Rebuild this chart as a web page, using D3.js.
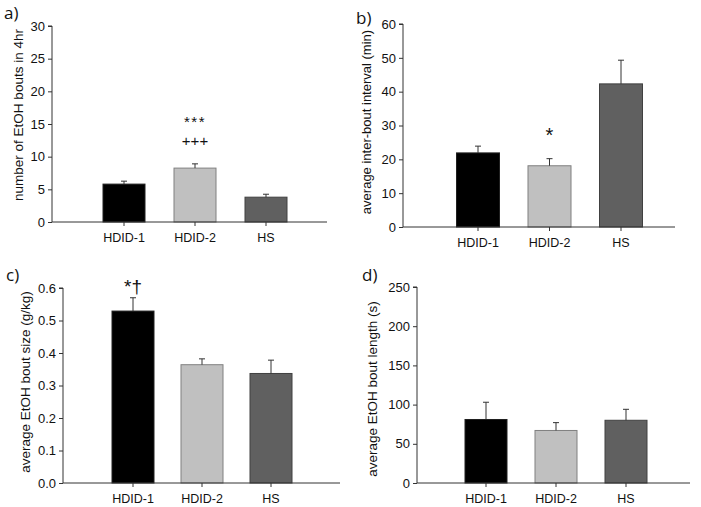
<!DOCTYPE html>
<html><head><meta charset="utf-8">
<script src="https://cdn.jsdelivr.net/npm/d3@7"></script>
<style>body{margin:0;background:#fff}svg{display:block}</style>
</head><body>
<script>
const categories = ["HDID-1", "HDID-2", "HS"];
const boutsMean = [5.8, 8.25, 3.8];
const boutsErr = [0.45, 0.65, 0.45];
const intervalMean = [21.9, 18.1, 42.3];
const intervalErr = [2.0, 2.1, 7.0];
const sizeMean = [0.529, 0.364, 0.337];
const sizeErr = [0.041, 0.018, 0.041];
const lengthMean = [81, 67, 80];
const lengthErr = [22, 10, 14];
const ticksA = [0, 5, 10, 15, 20, 25, 30];
const ticksB = [0, 10, 20, 30, 40, 50, 60];
const ticksC = [0, 0.1, 0.2, 0.3, 0.4, 0.5, 0.6];
const ticksD = [0, 50, 100, 150, 200, 250];
const fills = ["#000000", "#c0c0c0", "#606060"];
const strokes = ["#202020", "#808080", "#404040"];

const svg = d3.select("body").append("svg").attr("width", 701).attr("height", 507);
const font = "'Liberation Sans', Arial, sans-serif";

function panel(o) {
  const g = svg.append("g");
  const y = d3.scaleLinear().domain([o.ticks[0], o.ticks[o.ticks.length - 1]]).range([o.bottom, o.top]);
  const step = o.step;
  const x = d3.scaleBand().domain(categories)
    .range([o.c0 - step / 2, o.c0 + step * 2.5]).paddingInner(1 - o.bw / step).paddingOuter((1 - o.bw / step) / 2);
  g.selectAll("rect.bar").data(o.mean).join("rect")
    .attr("x", (d, i) => x(categories[i]))
    .attr("y", d => y(d))
    .attr("width", x.bandwidth())
    .attr("height", d => o.bottom - y(d))
    .attr("fill", (d, i) => fills[i])
    .attr("stroke", (d, i) => strokes[i]).attr("stroke-width", 1);
  const eg = g.selectAll("g.err").data(o.mean).join("g");
  eg.append("line")
    .attr("x1", (d, i) => x(categories[i]) + x.bandwidth() / 2)
    .attr("x2", (d, i) => x(categories[i]) + x.bandwidth() / 2)
    .attr("y1", d => y(d)).attr("y2", (d, i) => y(d + o.err[i]))
    .attr("stroke", "#333").attr("stroke-width", 1);
  eg.append("line")
    .attr("x1", (d, i) => x(categories[i]) + x.bandwidth() / 2 - 3)
    .attr("x2", (d, i) => x(categories[i]) + x.bandwidth() / 2 + 3)
    .attr("y1", (d, i) => y(d + o.err[i])).attr("y2", (d, i) => y(d + o.err[i]))
    .attr("stroke", "#333").attr("stroke-width", 1);
  const ya = d3.axisLeft(y).tickValues(o.ticks).tickSize(4).tickPadding(3).tickFormat(o.fmt);
  const yg = g.append("g").attr("transform", `translate(${o.left},0)`).call(ya);
  yg.select(".domain").attr("d", `M-4,${o.top}H0V${o.bottom}`).attr("stroke", "#333");
  yg.selectAll(".tick line").attr("stroke", "#333");
  yg.selectAll("text").attr("font-family", font).attr("font-size", 13).attr("fill", "#111");
  const xa = d3.axisBottom(x).tickSize(4).tickSizeOuter(0).tickPadding(7);
  const xg = g.append("g").attr("transform", `translate(0,${o.bottom})`).call(xa);
  xg.select(".domain").attr("d", `M${o.left},0H${o.right}`).attr("stroke", "#333");
  xg.selectAll(".tick line").attr("stroke", "#333");
  xg.selectAll("text").attr("font-family", font).attr("font-size", 12.5).attr("fill", "#111");
  g.append("text").attr("transform", `translate(${o.titleX},${o.titleY}) rotate(-90)`)
    .attr("text-anchor", "middle").attr("dy", "0.35em")
    .attr("font-family", font).attr("font-size", o.titleFs || 13.5).attr("fill", "#111").text(o.title);
  g.append("text").attr("x", o.labX).attr("y", o.labY).attr("font-family", "'Open Sans', sans-serif")
    .attr("font-size", 17).attr("fill", "#111").text(o.label);
  (o.notes || []).forEach(n => {
    const cx = x(categories[n.i]) + x.bandwidth() / 2 + (n.dx || 0);
    g.append("text").attr("x", cx).attr("y", y(n.v))
      .attr("text-anchor", "middle").attr("font-family", font).attr("font-size", n.fs || 18)
      .attr("letter-spacing", n.ls || 0).attr("fill", "#111").text(n.t);
  });
}

panel({mean: boutsMean, err: boutsErr, ticks: ticksA, fmt: d3.format("d"),
  left: 52, right: 327, top: 26, bottom: 222, c0: 124, step: 71, bw: 42,
  title: "number of EtOH bouts in 4hr", titleX: 18, titleY: 115, label: "a)", labX: 4, labY: 19,
  notes: [{i: 1, v: 14.5, t: "***", fs: 15, ls: 1.5}, {i: 1, v: 11.6, t: "+++", fs: 15}]});
panel({mean: intervalMean, err: intervalErr, ticks: ticksB, fmt: d3.format("d"),
  left: 403, right: 675, top: 24, bottom: 227, c0: 478, step: 71.5, bw: 43,
  title: "average inter-bout interval (min)", titleX: 366, titleY: 122, titleFs: 13, label: "b)", labX: 356, labY: 24,
  notes: [{i: 1, v: 25.2, t: "*", fs: 20}]});
panel({mean: sizeMean, err: sizeErr, ticks: ticksC, fmt: d3.format(".1f"),
  left: 63, right: 340, top: 288, bottom: 483, c0: 133, step: 69, bw: 42,
  title: "average EtOH bout size (g/kg)", titleX: 25, titleY: 382, label: "c)", labX: 6, labY: 281,
  notes: [{i: 0, v: 0.584, t: "*†", fs: 19}]});
panel({mean: lengthMean, err: lengthErr, ticks: ticksD, fmt: d3.format("d"),
  left: 417, right: 690, top: 287, bottom: 483, c0: 486, step: 70, bw: 42,
  title: "average EtOH bout length (s)", titleX: 372, titleY: 389, label: "d)", labX: 362, labY: 281});
</script>
</body></html>
